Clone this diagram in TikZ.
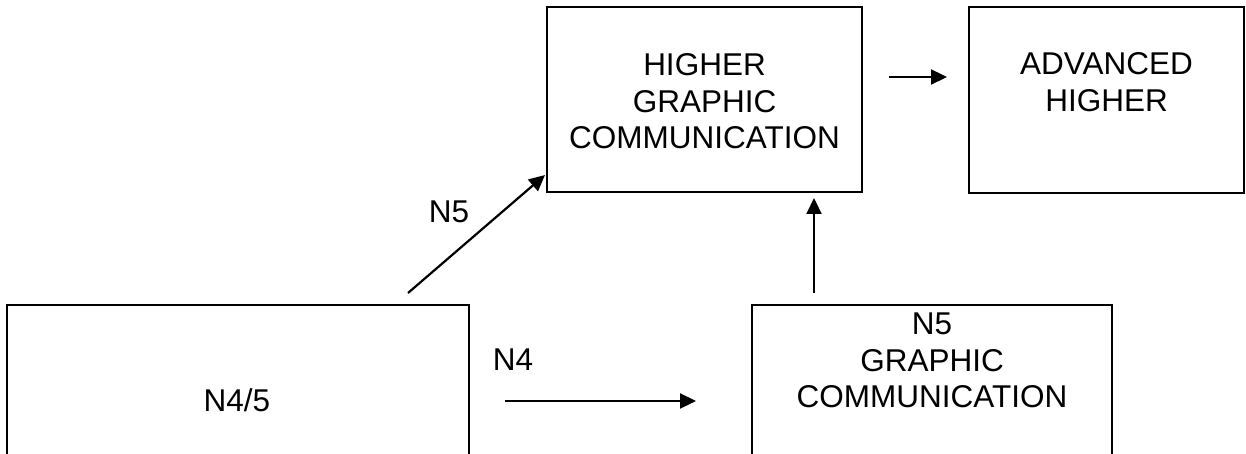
\documentclass[tikz,border=0pt]{standalone}
\usepackage{fontspec}
\setmainfont{Liberation Sans}
\usetikzlibrary{arrows.meta,calc}
\begin{document}
\begin{tikzpicture}[x=1pt,y=-1pt,
  course/.style={draw=black,line width=2pt,inner sep=0pt,outer sep=0pt},
  caption/.style={inner sep=0pt,align=center,font=\fontsize{31.5}{36.5}\selectfont},
  arr/.style={line width=2.2pt,-{Triangle[length=16pt,width=15pt]}}]
  \useasboundingbox (0,0) rectangle (1246,454);
  \clip (0,0) rectangle (1246,454);
  \fill[white] (0,0) rectangle (1246,454);

  % course boxes (the two lower ones run off the bottom edge)
  \node[course,minimum width=462pt,minimum height=190pt] (n45) at (238,400) {};
  \node[course,minimum width=360pt,minimum height=190pt] (n5gc) at (932,400) {};
  \node[course,minimum width=315pt,minimum height=185pt] (hgc) at (704.5,99.5) {};
  \node[course,minimum width=275pt,minimum height=186pt] (adv) at (1106.5,100) {};

  % box texts
  \node[caption] (t45) at (237,400) {N4/5};
  \node[caption] (t5gc) at (932,360.5) {N5\\GRAPHIC\\COMMUNICATION};
  \node[caption] (thgc) at (704.5,101.5) {HIGHER\\GRAPHIC\\COMMUNICATION};
  \node[caption] (tadv) at (1106.5,82) {ADVANCED\\HIGHER};

  % route labels
  \node[caption] (l5) at (449,212) {N5};
  \node[caption] (l4) at (513,360) {N4};

  % connector end points
  \coordinate (d0) at ($(n45.north east)+(-61,-12)$);
  \coordinate (d1) at ($(hgc.south west)+(-2,-17)$);
  \coordinate (h0) at ($(n45.east)+(36,1)$);
  \coordinate (h1) at ($(n5gc.west)+(-56,1)$);
  \coordinate (v0) at ($(n5gc.north west)+(62,-12)$);
  \coordinate (v1) at ($(hgc.south east)+(-48,6)$);
  \coordinate (a0) at ($(hgc.north east)+(27,70)$);
  \coordinate (a1) at ($(adv.north west)+(-22,70)$);

  \draw[arr] (d0) -- (d1);
  \draw[arr] (h0) -- (h1);
  \draw[arr] (v0) -- (v1);
  \draw[arr] (a0) -- (a1);
\end{tikzpicture}
\end{document}
